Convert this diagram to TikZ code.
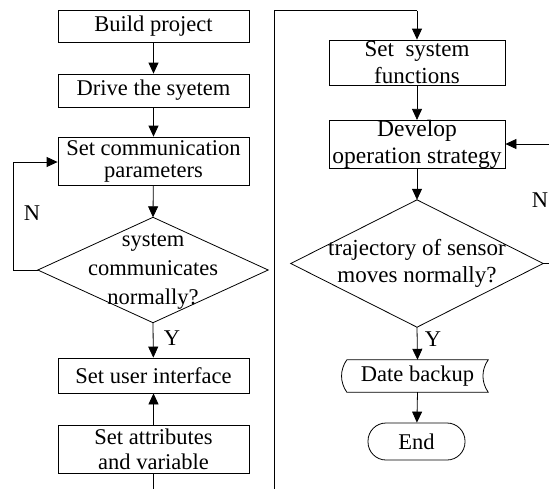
\documentclass[tikz,border=0pt]{standalone}
\usepackage{fontspec}
\setmainfont{Liberation Serif}
\usetikzlibrary{arrows.meta}
\begin{document}
\begin{tikzpicture}[x=1pt,y=-1pt,
  every node/.style={font=\fontsize{22.5}{24}\selectfont, inner sep=0pt, align=center},
  lbox/.style={draw, line width=0.8pt, minimum width=191pt},
  rbox/.style={draw, line width=0.8pt, minimum width=176pt},
  ar/.style={-{Triangle[length=11pt,width=10pt]}, line width=0.8pt},
  ln/.style={line width=0.8pt},
  lbl/.style={font=\fontsize{22.5}{24}\selectfont}]
\useasboundingbox (0,0) rectangle (549,488);
\fill[white] (0,0) rectangle (549,488);

% left column
\node[lbox, minimum height=32pt] (b1) at (153.5,26) {Build project};
\node[lbox, minimum height=33pt] (b2) at (153.5,90.5) {Drive the syetem};
\node[lbox, minimum height=48pt, font=\fontsize{22.5}{22}\selectfont] (b3) at (153.5,161) {Set communication\\parameters};
\node[minimum width=230pt, minimum height=105pt] (d1) at (153,270) {};
\draw[ln] (d1.north) -- (d1.east) -- (d1.south) -- (d1.west) -- cycle;
\node[font=\fontsize{22.5}{29}\selectfont] (d1t) at (153,272) {system\\communicates\\normally?};
\node[lbox, minimum height=35pt] (u) at (153.5,375.5) {Set user interface};
\node[lbox, minimum height=48pt, font=\fontsize{22.5}{25}\selectfont] (a) at (153.5,449) {Set attributes\\and variable};

\coordinate (l1) at (13,270);
\coordinate (l2) at (13,162);
\coordinate (abot) at (153.5,492);

\draw[ar] (b1) -- (b2);
\draw[ar] (b2) -- (b3);
\draw[ar] (b3) -- (d1.north);
\draw[ar] (d1.south) -- (u);
\draw[ar] (d1.west) -- (l1) -- (l2) -- (b3.west |- l2);
\draw[ar] (a) -- (u);
\draw[ln] (a.south) -- (abot);
\node[lbl] (n1) at (32,213) {N};
\node[lbl] (y1) at (172,338) {Y};

% right column
\coordinate (r0) at (274.5,492);
\coordinate (r1) at (274.5,10.5);
\coordinate (r2) at (417,10.5);
\node[rbox, minimum height=45pt, font=\fontsize{23}{27}\selectfont] (s) at (417,62.5) {Set\ \ system\\functions};
\node[rbox, minimum height=47pt, font=\fontsize{23.5}{27}\selectfont] (dv) at (417,144.5) {Develop\\operation strategy};
\node[minimum width=252pt, minimum height=127pt] (d2) at (417,263.5) {};
\draw[ln] (d2.north) -- (d2.east) -- (d2.south) -- (d2.west) -- cycle;
\node[font=\fontsize{23}{27}\selectfont] (d2t) at (417,263.5) {trajectory of sensor\\moves normally?};
\node[minimum width=141pt, minimum height=32pt] (db) at (417.5,376) {Date backup};
\draw[ln] (db.north west) -- (db.north east)
  .. controls +(-7,10) and +(-7,-10) .. (db.south east)
  -- (db.south west)
  .. controls +(-7,-10) and +(-7,10) .. (db.north west);
\node[draw, line width=0.8pt, minimum width=97pt, minimum height=37pt, rounded corners=18pt] (e) at (416.5,441.5) {End};

\coordinate (rc1) at (553,263.5);
\coordinate (rc2) at (553,144);

\draw[ln] (r0) -- (r1) -- (r2);
\draw[ar] (r2) -- (s.north);
\draw[ar] (s) -- (dv);
\draw[ar] (dv) -- (d2.north);
\draw[ar] (d2.south) -- (db.north);
\draw[ar] (db.south) -- (e);
\draw[ln] (d2.east) -- (rc1) -- (rc2);
\draw[ar] (rc2) -- (dv.east |- rc2);
\node[lbl] (y2) at (433,339) {Y};
\node[lbl] (n2) at (540,200) {N};
\end{tikzpicture}
\end{document}
